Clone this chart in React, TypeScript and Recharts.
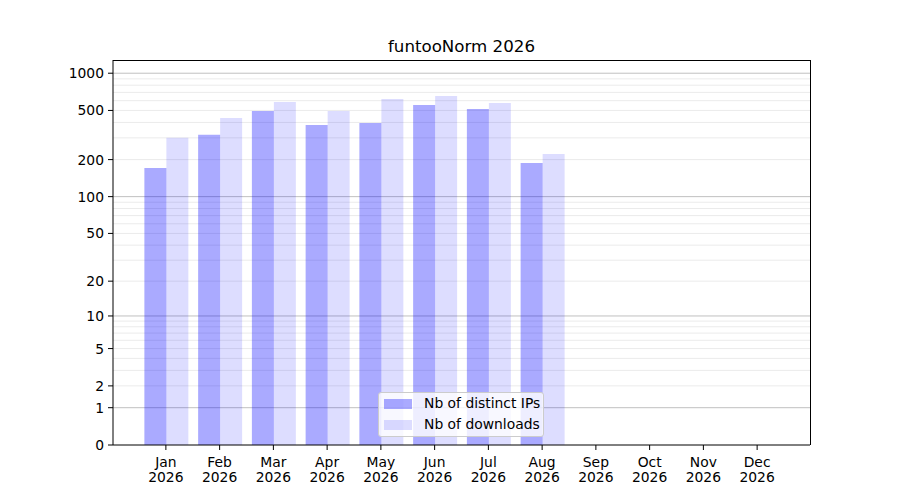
import { BarChart, Bar, XAxis, YAxis, CartesianGrid } from 'recharts'

const months = ['Jan', 'Feb', 'Mar', 'Apr', 'May', 'Jun', 'Jul', 'Aug', 'Sep', 'Oct', 'Nov', 'Dec']
const year = '2026'
const distinctIPs = [171, 318, 495, 382, 396, 554, 514, 188]
const downloads = [300, 435, 586, 495, 619, 655, 575, 222]
const yTicks = [0, 1, 2, 5, 10, 20, 50, 100, 200, 500, 1000]
const majorGrid = [1, 10, 100, 1000]
const minorGrid = [2, 3, 4, 5, 6, 7, 8, 9, 20, 30, 40, 50, 60, 70, 80, 90, 200, 300, 400, 500, 600, 700, 800, 900]
const seriesNames = ['Nb of distinct IPs', 'Nb of downloads']
const seriesColors = ['rgba(0,0,255,0.333)', 'rgba(0,0,255,0.133)']

// y axis is log10(v + 1), labels map back to raw counts
const t = (v: number | undefined) => (v == null ? null : Math.log10(v + 1))
const inv = (v: number) => Math.round(Math.pow(10, v) - 1)
const Y_MAX = 3.107

const FONT = '"DejaVu Sans", sans-serif'
const FS = 13.89

const rows = months.map((m, i) => ({
  month: m,
  ips: t(distinctIPs[i]),
  dls: t(downloads[i]),
}))

function MonthTick({ x, y, payload }: any) {
  return (
    <text x={x} y={y} textAnchor="middle" fill="#000" fontSize={FS}>
      <tspan x={x} dy={12.8}>{payload.value}</tspan>
      <tspan x={x} dy={15.4}>{year}</tspan>
    </text>
  )
}

export default function App() {
  return (
    <div style={{ position: 'absolute', left: 0, top: 0, width: 900, height: 500, fontFamily: FONT, background: '#fff' }}>
      <div style={{ position: 'absolute', left: 113, top: 37.7, width: 697, textAlign: 'center', fontSize: 16.67, lineHeight: '17px', color: '#000' }}>
        funtooNorm 2026
      </div>
      <BarChart
        width={900}
        height={500}
        data={rows}
        margin={{ top: 60, right: 90, left: 0, bottom: 0 }}
        barCategoryGap="10%"
        barGap={0}
      >
        <CartesianGrid vertical={false} stroke="#ebebeb" horizontalValues={minorGrid.map(v => t(v) as number)} />
        <CartesianGrid vertical={false} stroke="#c0c0c0" horizontalValues={majorGrid.map(v => t(v) as number)} />
        <XAxis
          dataKey="month"
          height={55}
          padding={{ left: 26, right: 26 }}
          interval={0}
          tickSize={5}
          tickMargin={4}
          axisLine={{ stroke: '#000' }}
          tickLine={{ stroke: '#000' }}
          tick={<MonthTick />}
        />
        <YAxis
          type="number"
          width={113}
          domain={[0, Y_MAX]}
          allowDataOverflow
          ticks={yTicks.map(v => t(v) as number)}
          interval={0}
          tickFormatter={inv}
          tickSize={5}
          tickMargin={4}
          axisLine={{ stroke: '#000' }}
          tickLine={{ stroke: '#000' }}
          tick={{ fill: '#000', fontSize: FS }}
        />
        <Bar dataKey="ips" name={seriesNames[0]} fill={seriesColors[0]} isAnimationActive={false} />
        <Bar dataKey="dls" name={seriesNames[1]} fill={seriesColors[1]} isAnimationActive={false} />
      </BarChart>
      {/* top and right spines */}
      <div
        style={{
          position: 'absolute', left: 113, top: 60, width: 697.5, height: 385, boxSizing: 'border-box',
          borderTop: '1px solid #000', borderRight: '1px solid #000', pointerEvents: 'none',
        }}
      />
      <div
        style={{
          position: 'absolute', left: 378, top: 392, width: 166, height: 45, boxSizing: 'border-box',
          border: '1px solid #cccccc', borderRadius: 3, background: 'rgba(255,255,255,0.8)',
          paddingLeft: 5, fontSize: FS, color: '#000',
        }}
      >
        {seriesNames.map((n, i) => (
          <div key={n} style={{ display: 'flex', alignItems: 'center', height: 21 }}>
            <span style={{ display: 'inline-block', width: 28, height: 10, background: seriesColors[i], marginRight: 12 }} />
            <span style={{ lineHeight: '15px', whiteSpace: 'nowrap' }}>{n}</span>
          </div>
        ))}
      </div>
    </div>
  )
}
